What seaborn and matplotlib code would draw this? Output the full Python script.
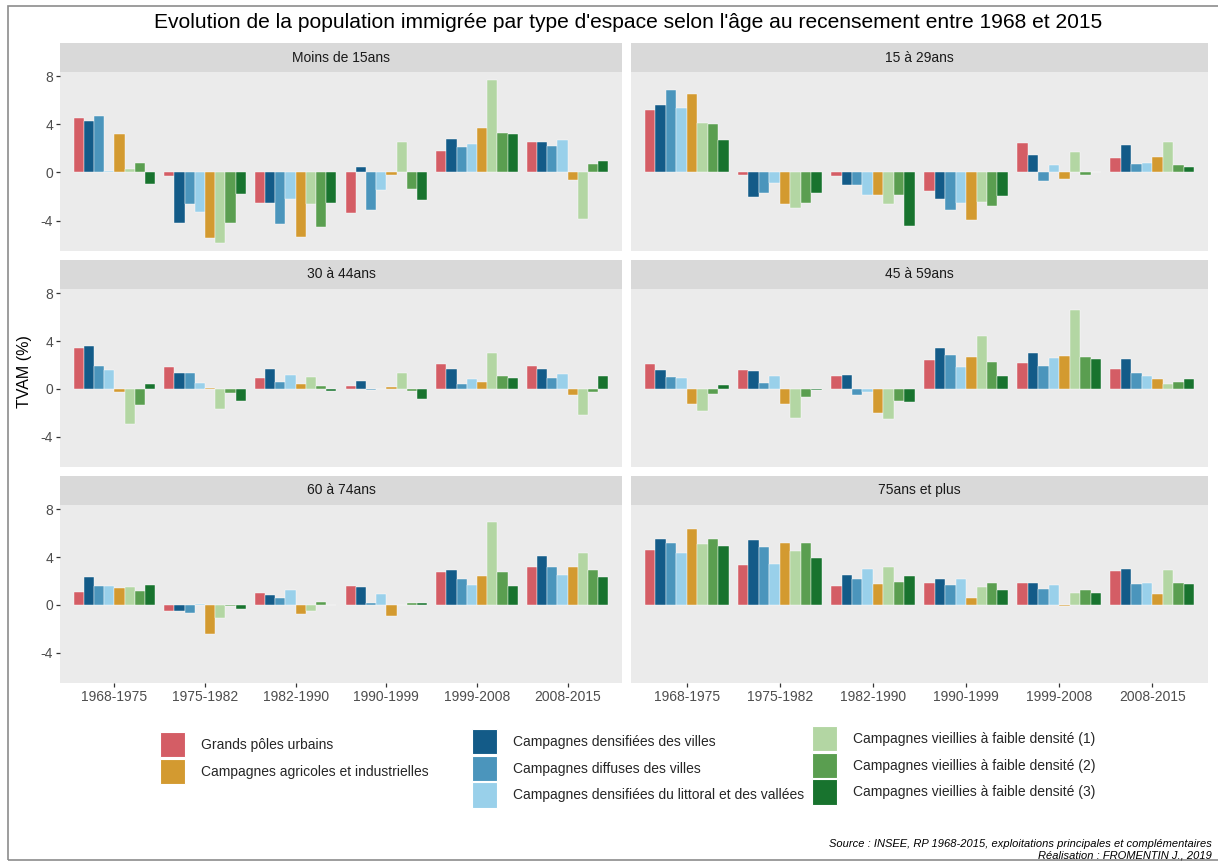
import numpy as np
import pandas as pd
import matplotlib
matplotlib.use("Agg")
import matplotlib.pyplot as plt
from matplotlib.patches import Patch, Rectangle
import seaborn as sns

# ── Data ──────────────────────────────────────────────────────────────────────
PERIODES = ["1968-1975", "1975-1982", "1982-1990", "1990-1999", "1999-2008", "2008-2015"]

# bar order inside each period
ESPACES = [
    "Grands pôles urbains",
    "Campagnes densifiées des villes",
    "Campagnes diffuses des villes",
    "Campagnes densifiées du littoral et des vallées",
    "Campagnes agricoles et industrielles",
    "Campagnes vieillies à faible densité (1)",
    "Campagnes vieillies à faible densité (2)",
    "Campagnes vieillies à faible densité (3)",
]
COULEURS = ["#D45D65", "#135B88", "#4B95BC", "#99D0EA",
            "#D39A30", "#B3D6A3", "#5A9E50", "#18732E"]

AGES = ["Moins de 15ans", "15 à 29ans", "30 à 44ans",
        "45 à 59ans", "60 à 74ans", "75ans et plus"]

# TVAM (%) : one row per period, one value per espace (ESPACES order)
moins_15 = [
    [4.53, 4.30, 4.67, 0.14, 3.20, 0.28, 0.78, -1.00],
    [-0.30, -4.17, -2.60, -3.25, -5.47, -5.86, -4.17, -1.83],
    [-2.53, -2.53, -4.33, -2.19, -5.36, -2.64, -4.58, -2.56],
    [-3.39, 0.44, -3.14, -1.44, -0.19, 2.50, -1.39, -2.33],
    [1.83, 2.75, 2.11, 2.36, 3.69, 7.69, 3.31, 3.19],
    [2.56, 2.56, 2.22, 2.69, -0.61, -3.86, 0.69, 0.94],
]
de_15_29 = [
    [5.22, 5.61, 6.86, 5.39, 6.53, 4.11, 4.03, 2.72],
    [-0.17, -2.06, -1.69, -0.86, -2.61, -2.92, -2.56, -1.75],
    [-0.33, -1.03, -1.03, -1.86, -1.89, -2.64, -1.89, -4.44],
    [-1.58, -2.22, -3.14, -2.53, -3.92, -2.44, -2.81, -1.94],
    [2.42, 1.44, -0.69, 0.61, -0.56, 1.72, -0.25, 0.02],
    [1.19, 2.33, 0.67, 0.78, 1.28, 2.53, 0.61, 0.44],
]
de_30_44 = [
    [3.42, 3.56, 1.92, 1.56, -0.22, -2.97, -1.31, 0.42],
    [1.81, 1.33, 1.31, 0.53, 0.11, -1.67, -0.31, -0.97],
    [0.92, 1.67, 0.58, 1.17, 0.39, 0.97, 0.25, -0.17],
    [0.25, 0.69, -0.11, 0.03, 0.17, 1.31, -0.17, -0.83],
    [2.06, 1.67, 0.44, 0.86, 0.56, 2.97, 1.06, 0.92],
    [1.92, 1.64, 0.92, 1.28, -0.47, -2.17, -0.28, 1.08],
]
de_45_59 = [
    [2.08, 1.56, 1.03, 0.94, -1.25, -1.89, -0.39, 0.33],
    [1.56, 1.50, 0.50, 1.06, -1.25, -2.44, -0.64, -0.05],
    [1.08, 1.19, -0.53, -0.25, -2.00, -2.56, -0.97, -1.11],
    [2.39, 3.44, 2.83, 1.86, 2.69, 4.47, 2.25, 1.11],
    [2.19, 3.03, 1.92, 2.61, 2.75, 6.58, 2.69, 2.47],
    [1.69, 2.47, 1.31, 1.11, 0.83, 0.42, 0.61, 0.83],
]
de_60_74 = [
    [1.07, 2.37, 1.60, 1.60, 1.41, 1.46, 1.15, 1.63],
    [-0.51, -0.51, -0.65, 0.11, -2.42, -1.10, -0.05, -0.37],
    [0.96, 0.82, 0.56, 1.24, -0.79, -0.51, 0.23, 0.03],
    [1.60, 1.46, 0.17, 0.90, -0.96, 0.03, 0.20, 0.14],
    [2.76, 2.93, 2.17, 1.69, 2.45, 6.96, 2.76, 1.60],
    [3.21, 4.11, 3.15, 2.51, 3.15, 4.31, 2.93, 2.31],
]
plus_75 = [
    [4.59, 5.55, 5.15, 4.31, 6.39, 5.13, 5.52, 4.93],
    [3.35, 5.41, 4.85, 3.44, 5.21, 4.54, 5.18, 3.94],
    [1.61, 2.48, 2.17, 3.01, 1.72, 3.21, 1.92, 2.45],
    [1.83, 2.14, 1.63, 2.20, 0.56, 1.52, 1.83, 1.21],
    [1.80, 1.80, 1.30, 1.69, -0.08, 0.96, 1.21, 1.01],
    [2.82, 2.99, 1.75, 1.86, 0.93, 2.93, 1.86, 1.77],
]

VALEURS = [moins_15, de_15_29, de_30_44, de_45_59, de_60_74, plus_75]

rows = []
for age, table in zip(AGES, VALEURS):
    for periode, vals in zip(PERIODES, table):
        for espace, v in zip(ESPACES, vals):
            rows.append({"age": age, "periode": periode, "espace": espace, "tvam": v})
df = pd.DataFrame(rows)

# ── Style ─────────────────────────────────────────────────────────────────────
sns.set_theme(style="white")
plt.rcParams["font.family"] = ["Liberation Sans", "DejaVu Sans"]
plt.rcParams["axes.unicode_minus"] = False

W, H = 1218, 861
fig = plt.figure(figsize=(W / 100, H / 100), dpi=100)
palette = dict(zip(ESPACES, COULEURS))


def fx(px):
    return px / W


def fy(px):
    return 1 - px / H


COLS = [(60, 622), (631, 1208)]
ROWS = [(43, 72, 251), (260, 289, 467), (476, 505, 683)]
YLIM = (-6.54, 8.37)

for i, age in enumerate(AGES):
    r, c = divmod(i, 2)
    x0, x1 = COLS[c]
    s0, p0, p1 = ROWS[r]
    ax = fig.add_axes([fx(x0), fy(p1), fx(x1 - x0), (p1 - p0) / H])
    sub = df[df["age"] == age]
    sns.barplot(data=sub, x="periode", y="tvam", hue="espace",
                order=PERIODES, hue_order=ESPACES, palette=palette,
                width=0.9, gap=0, errorbar=None, legend=False, ax=ax,
                edgecolor="white", linewidth=0.3, saturation=1)
    ax.set_facecolor("#EBEBEB")
    ax.grid(False)
    for sp in ax.spines.values():
        sp.set_visible(False)
    ax.set_xlim(-0.6, 5.6)
    ax.set_ylim(*YLIM)
    ax.set_yticks([-4, 0, 4, 8])
    ax.set_xlabel("")
    ax.set_ylabel("")
    ax.tick_params(axis="both", left=True, bottom=True, colors="#333333",
                   labelcolor="#4D4D4D", labelsize=10, length=3, width=0.9,
                   pad=2)
    if c == 1:
        ax.tick_params(axis="y", left=False, labelleft=False)
    if r < 2:
        ax.tick_params(axis="x", bottom=False, labelbottom=False)

    # strip
    sax = fig.add_axes([fx(x0), fy(p0), fx(x1 - x0), (p0 - s0) / H])
    sax.set_facecolor("#D9D9D9")
    sax.set_xticks([])
    sax.set_yticks([])
    for sp in sax.spines.values():
        sp.set_visible(False)
    sax.text(0.5, 0.5, age, ha="center", va="center", fontsize=10,
             color="#1A1A1A", transform=sax.transAxes)

fig.text(fx(628), fy(22), "Evolution de la population immigrée par type d'espace "
         "selon l'âge au recensement entre 1968 et 2015",
         ha="center", va="center", fontsize=15.1, color="black")
fig.text(fx(25), fy(372), "TVAM (%)", rotation=90, ha="center", va="center",
         fontsize=11.5, color="black")

# ── Legend (3 blocks) ─────────────────────────────────────────────────────────
blocks = [([0, 4], 160, 732), ([1, 2, 3], 472, 729), ([5, 6, 7], 812, 726)]
for idx, lx, ly in blocks:
    handles = [Patch(facecolor=COULEURS[k], edgecolor="white", linewidth=0.8,
                     label=ESPACES[k]) for k in idx]
    fig.legend(handles=handles, loc="upper left",
               bbox_to_anchor=(fx(lx), fy(ly)), frameon=False,
               fontsize=10, handlelength=1.8, handleheight=2.4,
               labelspacing=0.12, handletextpad=1.15, borderpad=0,
               borderaxespad=0)

fig.text(fx(1212), fy(844), "Source : INSEE, RP 1968-2015, exploitations "
         "principales et complémentaires", ha="right", va="center",
         fontsize=8, style="italic", color="black")
fig.text(fx(1212), fy(856), "Réalisation : FROMENTIN J., 2019", ha="right",
         va="center", fontsize=8, style="italic", color="black")

# outer frame
fig.patches.append(Rectangle((fx(8), 1 - 860 / H), 1.0, (860 - 6) / H,
                             transform=fig.transFigure, fill=False,
                             edgecolor="#8C8C8C", linewidth=1.2))

fig.savefig("out.png", dpi=100)
